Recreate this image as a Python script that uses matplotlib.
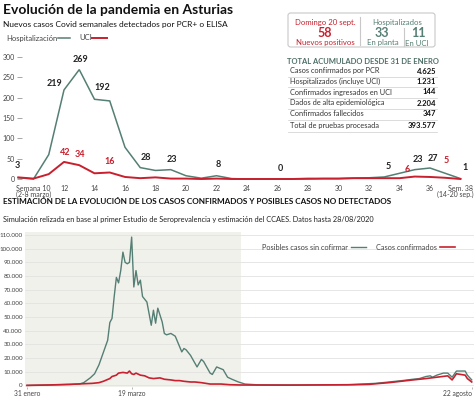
import matplotlib.pyplot as plt
from matplotlib.lines import Line2D
from matplotlib.patches import FancyBboxPatch, Rectangle
from matplotlib.transforms import ScaledTranslation

plt.rcParams['font.family'] = ['Lato', 'DejaVu Sans']

W, H = 474, 398
GREEN = '#557f74'
RED = '#c8202e'
DARK = '#222222'


def fx(px):
    return px / W


def fy(py):
    return 1 - py / H


# --- datos: casos semanales (hospitalización / UCI) ---
weeks = list(range(9, 39))
hosp = [3, 0, 60, 219, 269, 196, 192, 78, 28, 21, 23, 8, 2, 8, 1, 0, 0, 0, 0, 0,
        1, 1, 2, 3, 5, 14, 23, 27, 14, 1]
uci = [4, 1, 12, 42, 34, 14, 16, 5, 2, 4, 1, 1, 0, 1, 0, 0, 0, 0, 0, 1,
       1, 1, 2, 2, 2, 2, 6, 5, 3, 0]
# etiquetas (semana, dx, dy en puntos)
hosp_labels = [(9, -0.7, 5.8), (12, -7, 1.5), (13, 0.7, 4), (15, -5.6, 6.5), (17, 4, 4),
               (19, 0.7, 4), (22, 1, 4.5), (26, 2, 4.3), (33, 3, 4.3), (35, 2, 4),
               (36, 2, 3.6), (38, 3, 4.7)]
uci_labels = [(12, 0.7, 3.6), (13, 0.7, 4.3), (15, 0, 4.7), (35, -5.4, 1.9), (36, 11.5, 8.6)]
xticks_top = [10, 12, 14, 16, 18, 20, 22, 24, 26, 28, 30, 32, 34, 36, 38]
xticklabels_top = ['Semana 10\n(2-8 marzo)'] + [str(w) for w in range(12, 37, 2)] + ['Sem. 38\n(14-20 sep.)']

# --- datos: estimación diaria (días desde 31 de enero) ---
green_days = [0, 10, 20, 24, 26, 29, 31, 33, 35, 37,
              38, 39, 40, 41, 42, 43, 44, 45, 46, 47,
              48, 49, 50, 51, 52, 53, 55, 57, 58, 59,
              60, 62, 63, 64, 66, 68, 71, 72, 73, 75,
              78, 80, 81, 84, 85, 87, 90, 92, 94, 97,
              100, 106, 125, 147, 160, 166, 172, 177, 180, 183,
              185, 186, 188, 191, 193, 195, 197, 201, 202, 204]
green_vals = [0, 300, 700, 1000, 2000, 5500, 8500, 15000, 24000, 33000,
              46000, 49000, 65000, 79000, 75000, 84000, 97500, 90000, 89000, 90000,
              108500, 72000, 84000, 73500, 77000, 65000, 61000, 44000, 55000, 45500,
              56500, 46500, 38000, 37000, 38000, 36000, 24500, 27000, 26000, 22000,
              13500, 19000, 17500, 9000, 8000, 13500, 11500, 6000, 4500, 2500,
              1000, 400, 300, 500, 1500, 2500, 3500, 4500, 5000, 6500,
              7000, 6000, 7500, 9000, 9000, 6000, 10500, 10500, 7500, 4000]
red_days = [0, 10, 20, 30, 33, 35, 38, 39, 40, 41, 42, 44, 46, 47, 48, 49, 50, 52, 54, 56,
            58, 61, 63, 66, 68, 70, 72, 75, 77, 80, 82, 84, 89, 93, 98, 120, 150, 157, 166,
            177, 183, 188, 193, 195, 197, 201, 202, 204]
red_vals = [0, 300, 800, 1500, 2000, 3000, 5000, 6500, 7000, 7500, 9000, 9500, 9000, 10500,
            8500, 8000, 9000, 7500, 7000, 5500, 5000, 5500, 4500, 4000, 3500, 3500, 3000, 2500,
            2500, 2000, 1500, 1000, 1000, 500, 300, 200, 500, 800, 2000, 4000, 5000, 6000,
            7000, 4000, 8500, 7500, 5000, 2500]
date_ticks = [0, 48, 204]
date_labels = ['31 enero', '19 marzo', '22 agosto']

# --- datos: cuadro resumen ---
table_rows = ['Casos confirmados por PCR', 'Hospitalizados (incluye UCI)',
              'Confirmados ingresados en UCI', 'Dados de alta epidemiológica',
              'Confirmados fallecidos', 'Total de pruebas procesada']
table_vals = ['4.625', '1.231', '144', '2.204', '347', '393.577']

fig = plt.figure(figsize=(W / 100, H / 100), dpi=100)

# ---------------- gráfico superior ----------------
l, r, t, b = 17, 468, 50, 182
ax = fig.add_axes([fx(l), fy(b), (r - l) / W, (b - t) / H])
ax.set_xlim(16 + (l - 125) / 15.25, 16 + (r - 125) / 15.25)
ax.set_ylim((179 - b) * 300 / 122, (179 - t) * 300 / 122)
ax.plot(weeks, hosp, color=GREEN, lw=1.1, solid_joinstyle='miter')
ax.plot(weeks, uci, color=RED, lw=1.4)
for w, dx, dy in hosp_labels:
    ax.annotate(str(hosp[weeks.index(w)]), (w, hosp[weeks.index(w)]), xytext=(dx, dy),
                textcoords='offset points', ha='center', va='bottom', fontsize=6.5,
                fontweight='bold', color=DARK)
for w, dx, dy in uci_labels:
    ax.annotate(str(uci[weeks.index(w)]), (w, uci[weeks.index(w)]), xytext=(dx, dy),
                textcoords='offset points', ha='center', va='bottom', fontsize=6.5,
                fontweight='bold', color=RED)
ax.set_yticks(range(0, 301, 50))
ax.tick_params(axis='y', direction='in', length=3.5, width=0.6, color='#999999',
               labelsize=5, labelcolor='#444444', pad=1.5)
ax.set_xticks(xticks_top)
ax.set_xticklabels(xticklabels_top, fontsize=5, color='#444444', linespacing=0.9, va='top')
ax.tick_params(axis='x', length=0, pad=2)
last = ax.get_xticklabels()[-1]
last.set_ha('right')
last.set_transform(last.get_transform() + ScaledTranslation(13 / 100, 0, fig.dpi_scale_trans))
for s in ax.spines.values():
    s.set_visible(False)
ax.patch.set_alpha(0)

# títulos
fig.text(fx(3), fy(10), 'Evolución de la pandemia en Asturias', fontsize=10, fontweight='bold',
         color='#111111', va='center')
fig.text(fx(3), fy(24), 'Nuevos casos Covid semanales detectados por PCR+ o ELISA', fontsize=6,
         color='#111111', va='center')
fig.text(fx(6), fy(38), 'Hospitalización', fontsize=5.5, color='#444444', va='center')
fig.add_artist(Line2D([fx(58), fx(70)], [fy(38), fy(38)], color=GREEN, lw=1.1))
fig.text(fx(79), fy(38), 'UCI', fontsize=5.5, color='#444444', va='center')
fig.add_artist(Line2D([fx(92), fx(107)], [fy(38), fy(38)], color=RED, lw=1.4))

# cuadro de la derecha
fig.add_artist(FancyBboxPatch((fx(288), fy(47)), (435 - 288) / W, 34 / H,
                              boxstyle='round,pad=0,rounding_size=0.006',
                              transform=fig.transFigure, fc='white', ec='#c8c8c8', lw=0.8))
fig.text(fx(325), fy(23), 'Domingo 20 sept.', fontsize=5.6, color=RED, ha='center', va='center')
fig.text(fx(325), fy(33), '58', fontsize=9, fontweight='bold', color=RED, ha='center', va='center')
fig.text(fx(325), fy(43), 'Nuevos positivos', fontsize=5.6, color=RED, ha='center', va='center')
fig.add_artist(Line2D([fx(360), fx(360)], [fy(17), fy(45)], color='#c8c8c8', lw=0.8))
fig.text(fx(397), fy(23), 'Hospitalizados', fontsize=5.6, color=GREEN, ha='center', va='center')
fig.text(fx(382), fy(33), '33', fontsize=9, fontweight='bold', color=GREEN, ha='center', va='center')
fig.text(fx(418), fy(33), '11', fontsize=9, fontweight='bold', color=GREEN, ha='center', va='center')
fig.text(fx(383), fy(43), 'En planta', fontsize=5.6, color=GREEN, ha='center', va='center')
fig.text(fx(417), fy(43), 'En UCI', fontsize=5.6, color=GREEN, ha='center', va='center')
fig.add_artist(Line2D([fx(404), fx(404)], [fy(28), fy(46)], color='#c8c8c8', lw=0.8))

fig.add_artist(Rectangle((fx(286), fy(134)), (438 - 286) / W, 80 / H, transform=fig.transFigure,
                         fc='white', ec='none'))
fig.text(fx(287), fy(61), 'TOTAL ACUMULADO DESDE 31 DE ENERO', fontsize=5.5, fontweight='bold',
         color='#4d6e66', va='center')
row_y = [71, 81, 92, 103, 114, 126]
for yy, name, val in zip(row_y, table_rows, table_vals):
    fig.text(fx(290), fy(yy), name, fontsize=5.3, color='#333333', va='center')
    fig.text(fx(436), fy(yy), val, fontsize=5.5, fontweight='bold', color='#111111',
             ha='right', va='center')
    fig.add_artist(Line2D([fx(288), fx(437)], [fy(yy + 5.5), fy(yy + 5.5)],
                          color='#d6d6d6', lw=0.6))

# ---------------- gráfico inferior ----------------
fig.text(fx(3), fy(202), 'ESTIMACIÓN DE LA EVOLUCIÓN DE LOS CASOS CONFIRMADOS Y POSIBLES CASOS NO DETECTADOS',
         fontsize=5.85, fontweight='bold', color='#111111', va='center')
fig.text(fx(3), fy(220), 'Simulación relizada en base al primer Estudio de Seroprevalencia y estimación '
         'del CCAES. Datos hasta 28/08/2020', fontsize=5.35, color='#222222', va='center')

l2, r2, t2, b2 = 25, 474, 232, 387
ax2 = fig.add_axes([fx(l2), fy(b2), (r2 - l2) / W, (b2 - t2) / H])
ax2.set_xlim((l2 - 27) / 2.18, (r2 - 27) / 2.18)
ax2.set_ylim((385.4 - b2) / 1.367 * 1000, (385.4 - t2) / 1.367 * 1000)
ax2.axvspan(ax2.get_xlim()[0], 98, color='#f1f1ec', lw=0, zorder=0)
ax2.set_yticks(range(0, 110001, 10000))
ax2.set_yticklabels([f'{v:,}'.replace(',', '.') for v in range(0, 110001, 10000)])
ax2.grid(axis='y', color='#e2e2e2', lw=0.6, zorder=1)
ax2.tick_params(axis='y', length=0, labelsize=4.5, labelcolor='#444444', pad=1.5)
ax2.plot(green_days, green_vals, color=GREEN, lw=1.0, zorder=3, clip_on=False)
ax2.plot(red_days, red_vals, color=RED, lw=1.2, zorder=4, clip_on=False)
ax2.set_xticks(date_ticks)
ax2.set_xticklabels(date_labels, fontsize=4.8, color='#444444')
ax2.get_xticklabels()[-1].set_ha('right')
ax2.tick_params(axis='x', length=1.5, width=0.5, color='#999999', pad=0.5)
for s in ax2.spines.values():
    s.set_visible(False)
ax2.patch.set_alpha(0)

fig.text(fx(348), fy(247), 'Posibles casos sin cofirmar', fontsize=5.3, color='#444444',
         ha='right', va='center')
fig.add_artist(Line2D([fx(351), fx(366)], [fy(247), fy(247)], color=GREEN, lw=1.0))
fig.text(fx(376), fy(247), 'Casos confirmados', fontsize=5.3, color='#444444', va='center')
fig.add_artist(Line2D([fx(440), fx(455)], [fy(247), fy(247)], color=RED, lw=1.2))

fig.savefig('out.png', dpi=100)
